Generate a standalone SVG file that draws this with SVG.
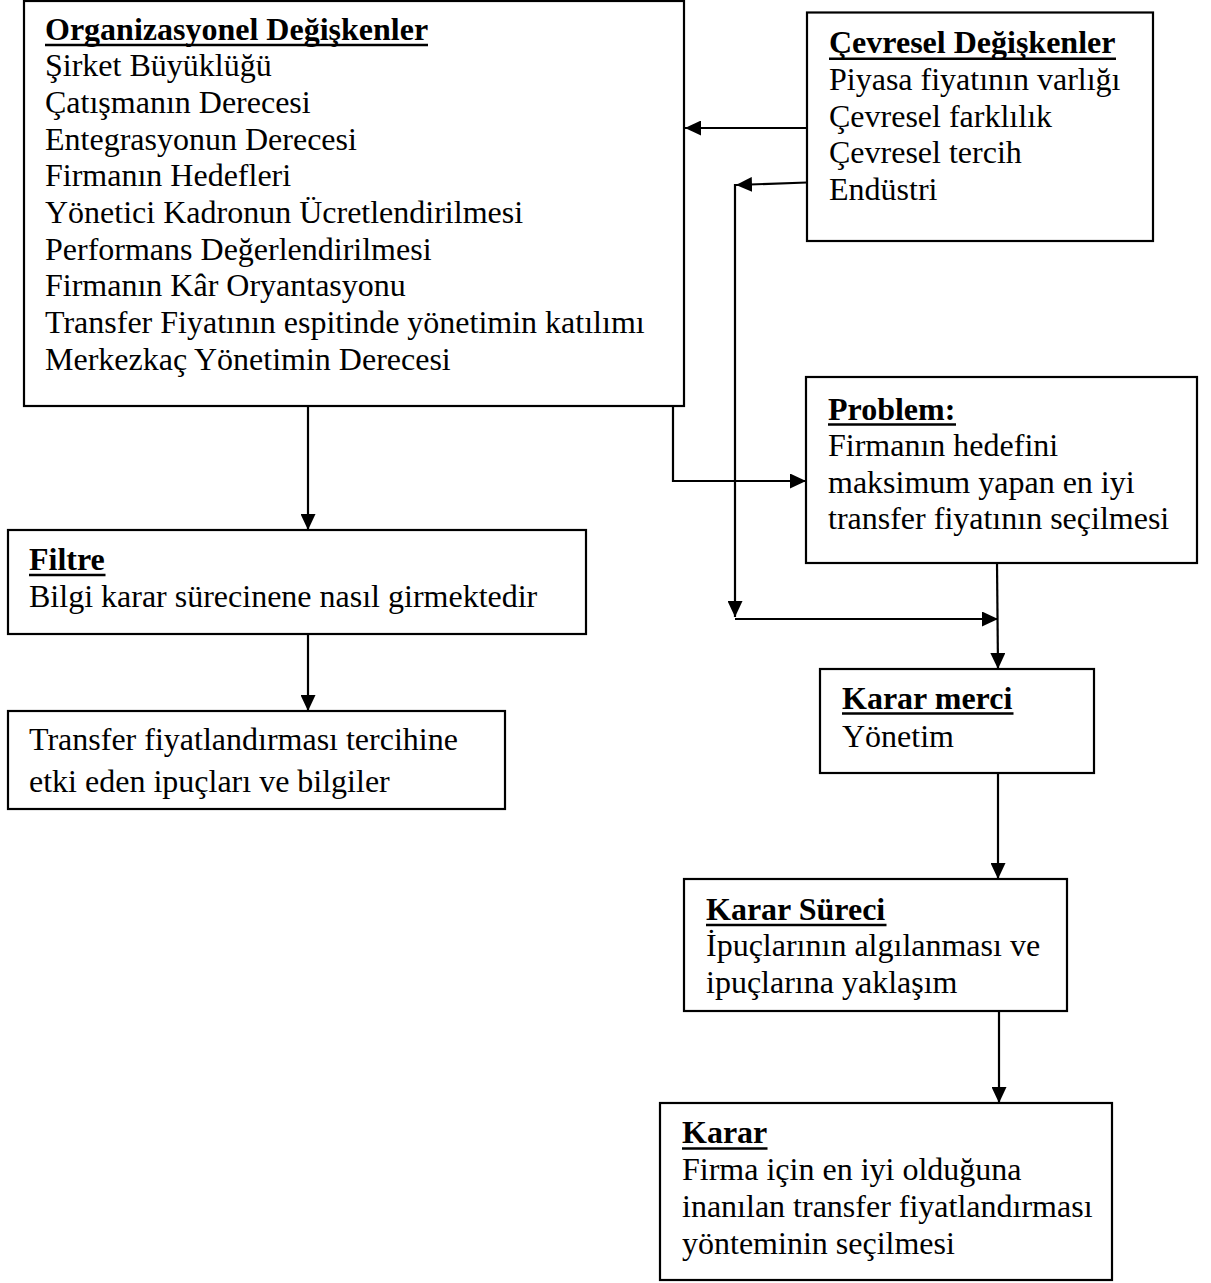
<svg xmlns="http://www.w3.org/2000/svg" width="1211" height="1283" viewBox="0 0 1211 1283">
  <style>
    .box { fill: #ffffff; stroke: #000000; stroke-width: 2.2; }
    .t { font-family: "Liberation Serif", "Times New Roman", serif; font-size: 32px; fill: #000000; }
    .b { font-weight: bold; }
    .ul { stroke: #000000; stroke-width: 2.6; }
    .conn { fill: none; stroke: #000000; stroke-width: 2.2; }
  </style>
  <defs>
    <marker id="arrow" markerUnits="userSpaceOnUse" markerWidth="16" markerHeight="15" refX="16" refY="7.5" orient="auto">
      <path d="M0,0 L16,7.5 L0,15 z" fill="#000000"/>
    </marker>
  </defs>
  <rect width="1211" height="1283" fill="#ffffff"/>

  <!-- connectors -->
  <g id="connectors">
    <line class="conn" x1="807" y1="128" x2="685" y2="128" marker-end="url(#arrow)"/>
    <line class="conn" x1="807" y1="182.5" x2="736" y2="185" marker-end="url(#arrow)"/>
    <line class="conn" x1="735" y1="184" x2="735" y2="617" marker-end="url(#arrow)"/>
    <line class="conn" x1="735" y1="619" x2="998" y2="619" marker-end="url(#arrow)"/>
    <line class="conn" x1="997" y1="563" x2="998" y2="669" marker-end="url(#arrow)"/>
    <polyline class="conn" points="673,406 673,481 806,481" marker-end="url(#arrow)"/>
    <line class="conn" x1="308" y1="406" x2="308" y2="530" marker-end="url(#arrow)"/>
    <line class="conn" x1="308" y1="634" x2="308" y2="711" marker-end="url(#arrow)"/>
    <line class="conn" x1="998" y1="773" x2="998" y2="879" marker-end="url(#arrow)"/>
    <line class="conn" x1="999" y1="1011" x2="999" y2="1103" marker-end="url(#arrow)"/>
  </g>

  <!-- organisational variables -->
  <g id="org">
    <rect class="box" x="24" y="1" width="660" height="405"/>
    <text class="t b" x="45" y="39.5">Organizasyonel Değişkenler</text>
    <line class="ul" x1="45" y1="45" x2="428" y2="45"/>
    <text class="t" x="45" y="76.2">Şirket Büyüklüğü</text>
    <text class="t" x="45" y="112.9">Çatışmanın Derecesi</text>
    <text class="t" x="45" y="149.6">Entegrasyonun Derecesi</text>
    <text class="t" x="45" y="186.3">Firmanın Hedefleri</text>
    <text class="t" x="45" y="223">Yönetici Kadronun Ücretlendirilmesi</text>
    <text class="t" x="45" y="259.7">Performans Değerlendirilmesi</text>
    <text class="t" x="45" y="296.4">Firmanın Kâr Oryantasyonu</text>
    <text class="t" x="45" y="333.1">Transfer Fiyatının espitinde yönetimin katılımı</text>
    <text class="t" x="45" y="369.8">Merkezkaç Yönetimin Derecesi</text>
  </g>

  <!-- environmental variables -->
  <g id="env">
    <rect class="box" x="807" y="12.5" width="346" height="228.5"/>
    <text class="t b" x="829" y="53.3">Çevresel Değişkenler</text>
    <line class="ul" x1="829" y1="58.8" x2="1116" y2="58.8"/>
    <text class="t" x="829" y="90">Piyasa fiyatının varlığı</text>
    <text class="t" x="829" y="126.7">Çevresel farklılık</text>
    <text class="t" x="829" y="163.4">Çevresel tercih</text>
    <text class="t" x="829" y="200.1">Endüstri</text>
  </g>

  <!-- problem -->
  <g id="problem">
    <rect class="box" x="806" y="377" width="391" height="186"/>
    <text class="t b" x="828" y="419.5">Problem:</text>
    <line class="ul" x1="828" y1="424.5" x2="956" y2="424.5"/>
    <text class="t" x="828" y="456">Firmanın hedefini</text>
    <text class="t" x="828" y="492.5">maksimum yapan en iyi</text>
    <text class="t" x="828" y="529">transfer fiyatının seçilmesi</text>
  </g>

  <!-- filter -->
  <g id="filtre">
    <rect class="box" x="8" y="530" width="578" height="104"/>
    <text class="t b" x="29" y="570">Filtre</text>
    <line class="ul" x1="29" y1="575" x2="105.5" y2="575"/>
    <text class="t" x="29" y="607">Bilgi karar sürecinene nasıl girmektedir</text>
  </g>

  <!-- cues and information -->
  <g id="ipuclari">
    <rect class="box" x="8" y="711" width="497" height="98"/>
    <text class="t" x="29" y="750">Transfer fiyatlandırması tercihine</text>
    <text class="t" x="29" y="791.5">etki eden ipuçları ve bilgiler</text>
  </g>

  <!-- decision authority -->
  <g id="karar-merci">
    <rect class="box" x="820" y="669" width="274" height="104"/>
    <text class="t b" x="842" y="708.5">Karar merci</text>
    <line class="ul" x1="842" y1="713.5" x2="1013.5" y2="713.5"/>
    <text class="t" x="842" y="747">Yönetim</text>
  </g>

  <!-- decision process -->
  <g id="karar-sureci">
    <rect class="box" x="684" y="879" width="383" height="132"/>
    <text class="t b" x="706" y="920">Karar Süreci</text>
    <line class="ul" x1="706" y1="925" x2="886.5" y2="925"/>
    <text class="t" x="706" y="956">İpuçlarının algılanması ve</text>
    <text class="t" x="706" y="993">ipuçlarına yaklaşım</text>
  </g>

  <!-- decision -->
  <g id="karar">
    <rect class="box" x="660" y="1103" width="452" height="177"/>
    <text class="t b" x="682" y="1143">Karar</text>
    <line class="ul" x1="682" y1="1148.5" x2="767.5" y2="1148.5"/>
    <text class="t" x="682" y="1180">Firma için en iyi olduğuna</text>
    <text class="t" x="682" y="1216.5">inanılan transfer fiyatlandırması</text>
    <text class="t" x="682" y="1253.5">yönteminin seçilmesi</text>
  </g>
</svg>
